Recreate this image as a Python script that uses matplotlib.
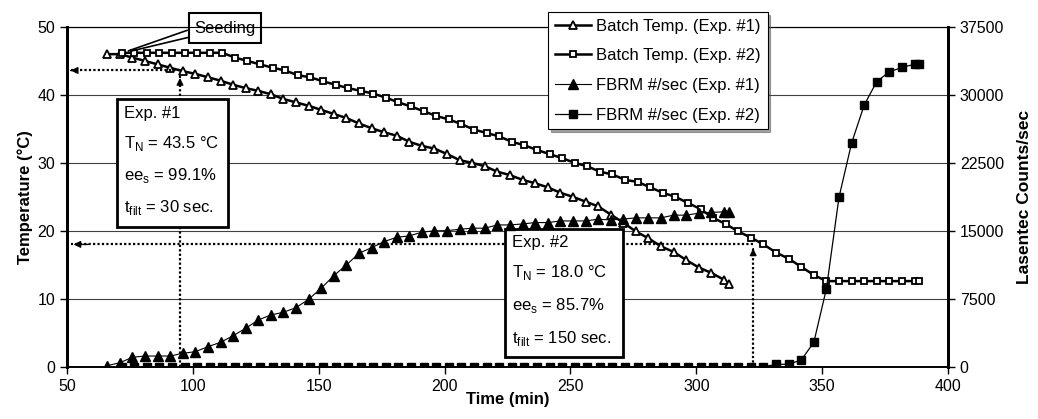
import matplotlib
matplotlib.use("Agg")
import matplotlib.pyplot as plt
from matplotlib.patches import Rectangle
import numpy as np

plt.rcParams['font.family'] = ['Liberation Sans', 'DejaVu Sans']
plt.rcParams['mathtext.fontset'] = 'custom'
plt.rcParams['mathtext.rm'] = 'Liberation Sans'

# ---- data ----
t_exp1 = [66, 71, 76, 81, 86, 91, 96, 101, 106, 111, 116, 121, 126, 131, 136, 141, 146, 151, 156, 161,
          166, 171, 176, 181, 186, 191, 196, 201, 206, 211, 216, 221, 226, 231, 236, 241, 246, 251, 256, 261,
          266, 271, 276, 281, 286, 291, 296, 301, 306, 311, 313]
temp_exp1 = [46.0, 46.0, 45.5, 45.0, 44.5, 44.0, 43.5, 43.1, 42.6, 42.1, 41.5, 41.0, 40.6, 40.1, 39.4, 38.9,
             38.4, 37.8, 37.2, 36.6, 35.8, 35.1, 34.5, 34.0, 33.1, 32.5, 32.1, 31.3, 30.4, 30.0, 29.5, 28.7,
             28.2, 27.5, 27.0, 26.4, 25.6, 25.0, 24.3, 23.6, 22.4, 21.2, 19.9, 18.9, 17.7, 16.9, 15.7, 14.6,
             13.8, 12.8, 12.2]
fbrm_exp1 = [110, 440, 1040, 1180, 1180, 1180, 1480, 1660, 2210, 2690, 3420, 4240, 5160, 5710, 6010, 6520,
             7440, 8660, 10050, 11230, 12520, 13140, 13810, 14290, 14440, 14850, 15000, 15020, 15170, 15290,
             15290, 15650, 15650, 15760, 15910, 15910, 16090, 16090, 16090, 16280, 16200, 16300, 16430, 16430,
             16430, 16730, 16730, 16950, 17030, 17100, 17100]

t_exp2 = [71.7, 76.7, 81.7, 86.7, 91.7, 96.7, 101.7, 106.7, 111.7, 116.7, 121.7, 126.7, 131.7, 136.7, 141.7,
          146.7, 151.7, 156.7, 161.7, 166.7, 171.7, 176.7, 181.7, 186.7, 191.7, 196.7, 201.7, 206.7, 211.7,
          216.7, 221.7, 226.7, 231.7, 236.7, 241.7, 246.7, 251.7, 256.7, 261.7, 266.7, 271.7, 276.7, 281.7,
          286.7, 291.7, 296.7, 301.7, 306.7, 311.7, 316.7, 321.7, 326.7, 331.7, 336.7, 341.7, 346.7, 351.7,
          356.7, 361.7, 366.7, 371.7, 376.7, 381.7, 386.7, 388.5]
temp_exp2 = [46.2, 46.2, 46.2, 46.2, 46.2, 46.2, 46.2, 46.2, 46.2, 45.5, 45.0, 44.5, 44.0, 43.6, 42.9,
             42.6, 42.0, 41.5, 41.0, 40.6, 40.2, 39.6, 38.9, 38.3, 37.6, 36.9, 36.4, 35.7, 34.9,
             34.4, 33.9, 33.1, 32.6, 31.9, 31.3, 30.7, 30.0, 29.5, 28.7, 28.3, 27.5, 27.2, 26.4,
             25.6, 25.0, 24.1, 23.2, 21.9, 21.0, 19.9, 19.0, 18.0, 16.8, 15.9, 14.7, 13.5, 12.6,
             12.6, 12.6, 12.6, 12.6, 12.6, 12.6, 12.6, 12.6]
fbrm_exp2 = [0] * 52 + [250, 280, 740, 2690, 8620, 18710, 24680, 28880, 31480, 32550, 33030, 33390, 33390]

labels = ['Batch Temp. (Exp. #1)', 'Batch Temp. (Exp. #2)', 'FBRM #/sec (Exp. #1)', 'FBRM #/sec (Exp. #2)']
xticks = [50, 100, 150, 200, 250, 300, 350, 400]
yticks_left = [0, 10, 20, 30, 40, 50]
yticks_right = [0, 7500, 15000, 22500, 30000, 37500]

# ---- figure ----
fig = plt.figure(figsize=(10.38, 4.19), dpi=100)
ax = fig.add_axes([0.0645, 0.1248, 0.8488, 0.8108])
ax2 = ax.twinx()

l1, = ax.plot(t_exp1, temp_exp1, color='black', lw=1.8, marker='^', ms=5.5, mfc='white', mec='black', mew=1.3, zorder=3)
l2, = ax.plot(t_exp2, temp_exp2, color='black', lw=1.8, marker='s', ms=4.8, mfc='white', mec='black', mew=1.3, zorder=3)
l3, = ax2.plot(t_exp1, fbrm_exp1, color='black', lw=0.8, marker='^', ms=6.5, mfc='black', mec='black', zorder=3)
l4, = ax2.plot(t_exp2, fbrm_exp2, color='black', lw=0.9, marker='s', ms=5.5, mfc='black', mec='black', zorder=3)

ax.set_xlim(50, 400)
ax.set_ylim(0, 50)
ax2.set_ylim(0, 37500)
ax.set_xticks(xticks)
ax.set_yticks(yticks_left)
ax2.set_yticks(yticks_right)
ax.yaxis.grid(True, color='#404040', lw=0.8)
ax.set_axisbelow(True)

for a in (ax, ax2):
    a.tick_params(direction='out', length=5, width=1, labelsize=11.5, colors='black')
for s in ('left', 'right'):
    ax.spines[s].set_linewidth(2)
    ax2.spines[s].set_linewidth(2)
ax.spines['top'].set_linewidth(0.8)
ax2.spines['top'].set_linewidth(0.8)
ax.spines['bottom'].set_linewidth(1.2)
ax2.spines['bottom'].set_linewidth(1.2)

ax.set_xlabel('Time (min)', fontsize=12, fontweight='bold', labelpad=-1)
ax.set_ylabel('Temperature (°C)', fontsize=12, fontweight='bold', labelpad=3)
ax2.set_ylabel('Lasentec Counts/sec', fontsize=12.5, fontweight='bold', labelpad=9)

# dotted arrows
def dotted_arrow(a, x0, y0, x1, y1):
    a.plot([x0, x1], [y0, y1], color='black', lw=1.6, ls=(0, (1, 1)), zorder=4, clip_on=False)
    a.annotate('', xy=(x1, y1), xytext=(x0 + (x1 - x0) * 0.97, y0 + (y1 - y0) * 0.97),
               arrowprops=dict(arrowstyle='-|>', color='black', lw=1, mutation_scale=10), zorder=4)

dotted_arrow(ax, 94.9, 43.6, 51.5, 43.6)
dotted_arrow(ax, 94.9, 0, 94.9, 42.9)
dotted_arrow(ax, 322.6, 18.0, 51.5, 18.0)
dotted_arrow(ax, 322.6, 0, 322.6, 17.4)

# text boxes
box_kw = dict(facecolor='white', edgecolor='black', lw=2, zorder=6, clip_on=False)
ax.add_patch(Rectangle((69.7, 20.6), 44.1, 18.8, **box_kw))
ax.add_patch(Rectangle((224.0, 1.5), 47.0, 18.7, **box_kw))
tkw = dict(fontsize=12, va='center', ha='left', zorder=7)
x1t = 72.5
ax.text(x1t, 37.3, 'Exp. #1', **tkw)
ax.text(x1t, 32.8, r'T$_\mathregular{N}$ = 43.5 °C', **tkw)
ax.text(x1t, 28.1, r'ee$_\mathregular{s}$ = 99.1%', **tkw)
ax.text(x1t, 23.5, r't$_\mathregular{filt}$ = 30 sec.', **tkw)
x2t = 226.6
ax.text(x2t, 18.3, 'Exp. #2', **tkw)
ax.text(x2t, 13.9, r'T$_\mathregular{N}$ = 18.0 °C', **tkw)
ax.text(x2t, 9.0, r'ee$_\mathregular{s}$ = 85.7%', **tkw)
ax.text(x2t, 4.1, r't$_\mathregular{filt}$ = 150 sec.', **tkw)

# seeding callout
ax.plot([97.7, 74.5], [49.5, 46.5], color='black', lw=1.2, zorder=8, clip_on=False)
ax.plot([99.7, 76.0], [48.6, 46.5], color='black', lw=1.2, zorder=8, clip_on=False)
ax.add_patch(Rectangle((98.5, 47.7), 28.6, 4.3, facecolor='white', edgecolor='black', lw=1.5,
                       zorder=9, clip_on=False))
ax.text(112.8, 49.85, 'Seeding', fontsize=12, ha='center', va='center', zorder=10, clip_on=False)

leg = ax2.legend([l1, l2, l3, l4], labels, loc='upper left', bbox_to_anchor=(548 / 1038, 1 - 12 / 419),
                 bbox_transform=fig.transFigure, fontsize=12, frameon=True, fancybox=False, shadow=True,
                 edgecolor='black', framealpha=1, borderpad=0.4, labelspacing=0.88, handlelength=2.2,
                 handletextpad=0.3, borderaxespad=0)
leg.get_frame().set_linewidth(0.8)
leg.set_zorder(20)

fig.savefig('out.png', dpi=100)
